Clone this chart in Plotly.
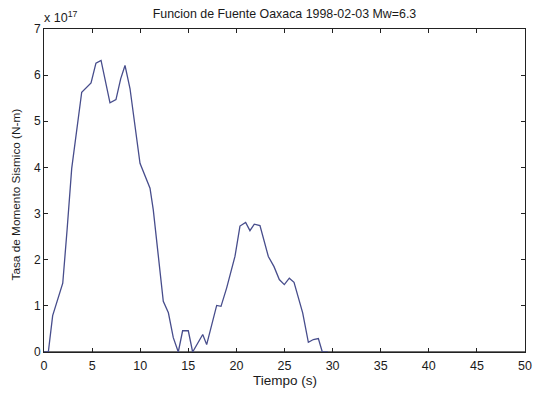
import plotly.graph_objects as go

# Time (s)
tiempo = [0.0, 0.45, 0.9, 1.95, 2.4, 2.88, 3.92, 4.89, 5.4, 5.93, 6.86, 7.48, 7.97, 8.42,
          8.94, 9.56, 9.98, 11.02, 11.36, 12.4, 12.93, 13.44, 13.96, 14.41, 15.0,
          15.45, 16.5, 16.91, 17.95, 18.4, 18.99, 19.85, 20.37, 20.96, 21.41, 21.86,
          22.45, 23.32, 23.91, 24.46, 24.98, 25.5, 25.99, 26.89, 27.48, 28.0, 28.52,
          28.93, 29.5]
# Moment rate (x 1e17 N-m)
tasa = [0.0, 0.0, 0.79, 1.49, 2.65, 3.98, 5.63, 5.83, 6.26, 6.32, 5.40, 5.47, 5.92, 6.21,
        5.71, 4.70, 4.09, 3.55, 3.08, 1.10, 0.85, 0.31, 0.0, 0.46, 0.46,
        0.0, 0.38, 0.16, 1.01, 0.99, 1.39, 2.07, 2.73, 2.81, 2.63, 2.77,
        2.74, 2.07, 1.85, 1.57, 1.46, 1.60, 1.51, 0.85, 0.21, 0.27, 0.29,
        0.0, 0.0]

x_ticks = [0, 5, 10, 15, 20, 25, 30, 35, 40, 45, 50]
y_ticks = [0, 1, 2, 3, 4, 5, 6, 7]

FONT = "Liberation Sans, Arial, sans-serif"
TXT = "#1a1a1a"

W, H = 534, 394
L, R, T, B = 44, 9, 28.5, 394 - 352.5

fig = go.Figure()
fig.add_trace(go.Scatter(x=tiempo, y=tasa, mode="lines",
                         line=dict(color="#474d8c", width=1.3),
                         showlegend=False, hoverinfo="skip"))

axis_common = dict(showgrid=False, zeroline=False, showline=True, mirror="ticks",
                   linecolor="#222222", linewidth=1, ticks="inside", ticklen=4,
                   tickcolor="#222222", automargin=False)

fig.update_layout(
    width=W, height=H,
    margin=dict(l=L, r=R, t=T, b=B, autoexpand=False),
    paper_bgcolor="white", plot_bgcolor="white",
    font=dict(family=FONT, color=TXT),
    title=dict(text="Funcion de Fuente Oaxaca 1998-02-03 Mw=6.3",
               x=284.5 / W, xanchor="center",
               y=1 - 13.5 / H, yanchor="middle",
               font=dict(family=FONT, size=12.4, color=TXT)),
    xaxis=dict(range=[0, 50], tickvals=x_ticks, ticktext=[str(v) for v in x_ticks],
               ticklabelstandoff=2,
               tickfont=dict(family=FONT, size=12.5, color=TXT), **axis_common),
    yaxis=dict(range=[0, 7], tickvals=y_ticks, ticktext=[str(v) for v in y_ticks],
               tickfont=dict(family=FONT, size=12, color=TXT), **axis_common),
    shapes=[dict(type="line", xref="paper", yref="paper", x0=0, x1=1, y0=0, y1=0,
                 line=dict(color="#6e6e6e", width=2), layer="below")],
    annotations=[
        dict(text="x 10<sup>17</sup>", xref="paper", yref="paper",
             x=0, y=1, xanchor="left", yanchor="bottom", showarrow=False,
             xshift=-2, yshift=2,
             font=dict(family=FONT, size=12.5, color=TXT)),
        dict(text="Tiempo (s)", xref="paper", yref="paper",
             x=0.5, y=0, xanchor="center", yanchor="middle", showarrow=False,
             yshift=-(381 - 352.5),
             font=dict(family=FONT, size=13.5, color=TXT)),
        dict(text="Tasa de Momento Sismico (N-m)", xref="paper", yref="paper",
             x=0, y=0.5, xanchor="center", yanchor="middle", showarrow=False,
             textangle=-90, xshift=-(44 - 15), yshift=-4,
             font=dict(family=FONT, size=11.8, color=TXT)),
    ],
)

fig.write_html(
    "out.html",
    config={"displayModeBar": False},
    post_script="document.body.style.margin='0';document.body.style.overflow='hidden';",
)
